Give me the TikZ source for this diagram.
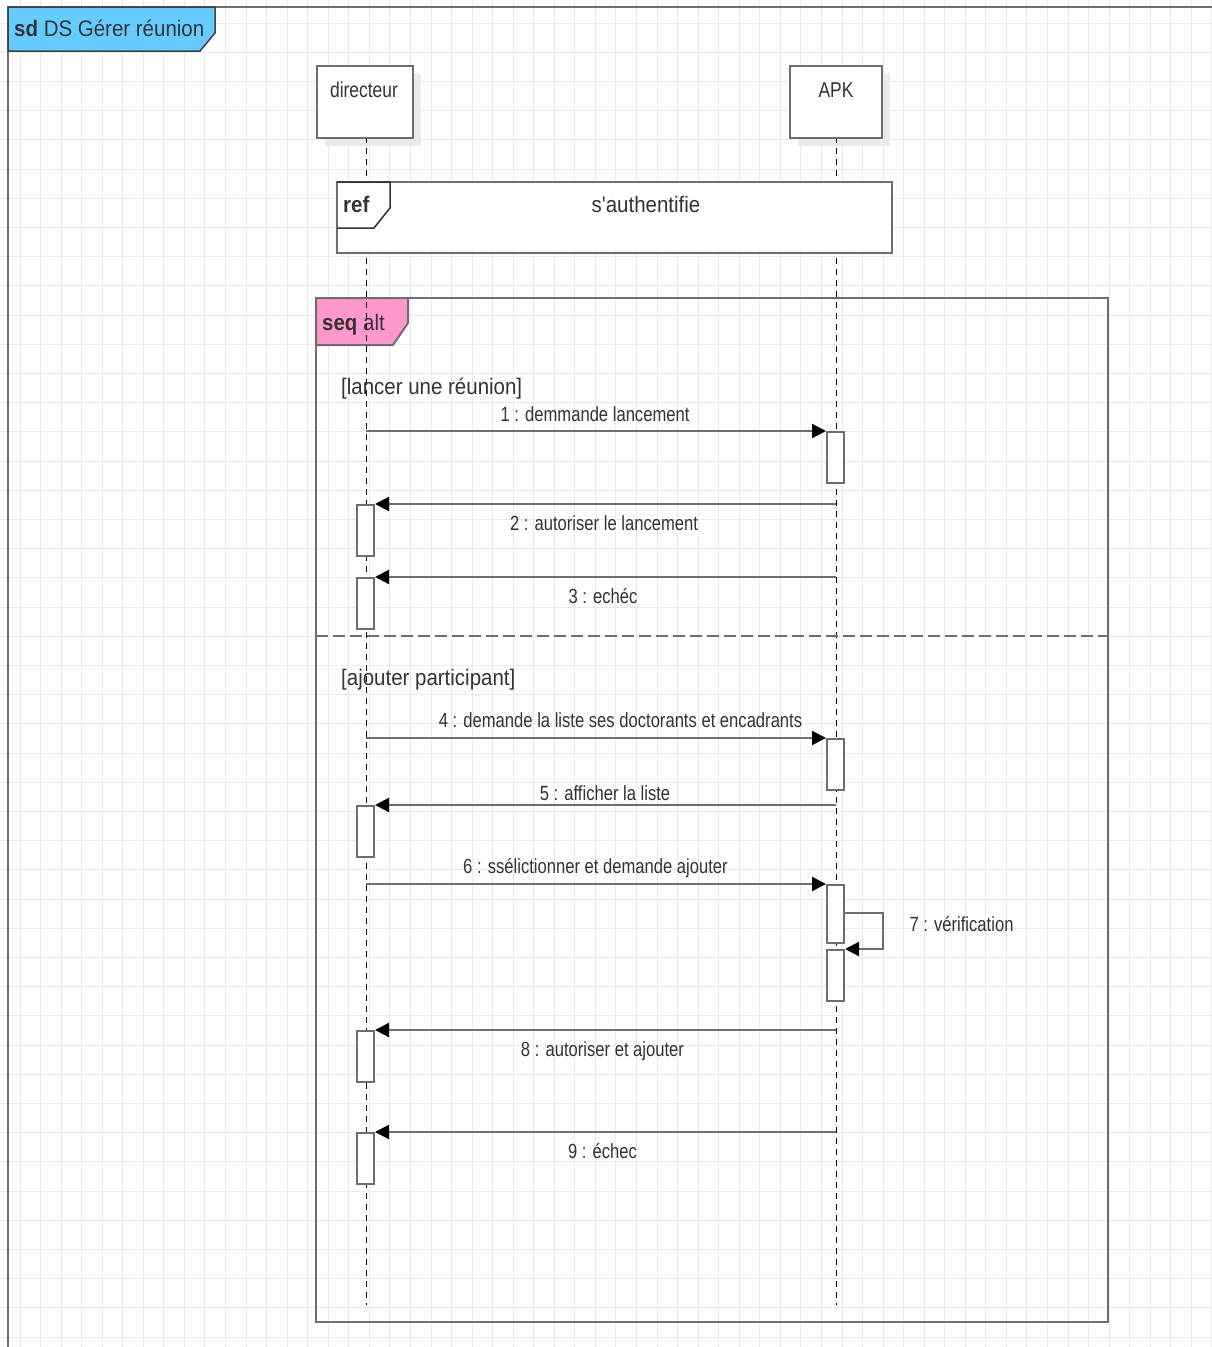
\documentclass[tikz,border=0pt]{standalone}
\usepackage{fontspec}
\setmainfont{Liberation Sans}
\newfontfamily\labfont[FakeStretch=0.81]{Liberation Sans}
\newfontfamily\bigfont[FakeStretch=0.91]{Liberation Sans}
\usetikzlibrary{arrows.meta}
\definecolor{frameg}{HTML}{6E6E6E}
\definecolor{gridg}{HTML}{EAEAEA}
\definecolor{sdblue}{HTML}{66CCFF}
\definecolor{altpink}{HTML}{FF99CC}
\definecolor{txt}{HTML}{333333}
\definecolor{shadowg}{HTML}{EBEBEB}
\begin{document}
\begin{tikzpicture}[x=1pt,y=-1pt,
  frameline/.style={draw=frameg,line width=2.5pt},
  lifeline/.style={draw=black,line width=1pt,dash pattern=on 6pt off 5pt},
  headbox/.style={draw=frameg,line width=2pt,fill=white,minimum width=96pt,minimum height=72pt,inner sep=0pt,anchor=north west},
  actbox/.style={draw=frameg,line width=2pt,fill=white,minimum width=17pt,minimum height=51pt,inner sep=0pt,anchor=north west},
  msg/.style={draw=frameg,line width=2.2pt,-{Triangle[length=14pt,width=14pt,color=black]}},
  lab/.style={font=\labfont\fontsize{20.5}{23}\selectfont,text=txt,inner sep=0pt,anchor=base},
  head/.style={font=\labfont\fontsize{21.5}{24}\selectfont,text=txt,inner sep=0pt,anchor=base},
  big/.style={font=\bigfont\fontsize{22.5}{25}\selectfont,text=txt,inner sep=0pt,anchor=base west},
]
\useasboundingbox (0,0) rectangle (1212,1347);
\fill[white] (0,0) rectangle (1212,1347);
% grid
\foreach \i in {0,...,59} \draw[gridg,line width=1pt] ({-0.55+20.55*\i},0) -- ++(0,1347);
\foreach \j in {0,...,46} \draw[gridg,line width=1pt] (0,{-6.2+29.2*\j}) -- ++(1212,0);
% outer frame
\draw[frameline] (8,1347) -- (8,7) -- (1212,7);
\draw[draw=black!75,line width=1.5pt,fill=sdblue] (8,7) -- (215,7) -- (215,33) -- (200,51) -- (8,51) -- cycle;
\node[big] (sdt) at (14,36) {\textbf{sd} DS Gérer réunion};
% alt frame
\draw[frameline] (316,298) rectangle (1108,1322);
\draw[draw=frameg,line width=2pt,fill=altpink] (316,298) -- (408,298) -- (408,323) -- (393,345) -- (316,345) -- cycle;
\node[big] (seqt) at (322,330) {\textbf{seq} alt};
% shadows of heads
\fill[shadowg] (325,74) rectangle (421,146);
\fill[shadowg] (798,74) rectangle (890,146);
% lifelines
\coordinate (dtop) at (366,137);
\coordinate (dend) at (366,1305);
\coordinate (ptop) at (836,137);
\coordinate (pend) at (836,1305);
\draw[lifeline] (dtop) -- (dend);
\draw[lifeline] (ptop) -- (pend);
% heads
\node[headbox] (dir) at (316,65) {};
\node[headbox,minimum width=92pt] (apk) at (789,65) {};
\node[head] (dirt) at (364,97) {directeur};
\node[head] (apkt) at (836,97) {APK};
% ref box
\draw[frameline,fill=white] (337,182) rectangle (892,253);
\draw[draw=black!80,line width=1.5pt] (337,182) -- (390,182) -- (390,208) -- (374,228) -- (337,228);
\node[big] (reft) at (343,212) {\textbf{ref}};
\node[big,anchor=base] (autht) at (646,212) {s'authentifie};
% separator
\draw[draw=frameg,line width=2.5pt,dash pattern=on 12pt off 5pt] (316,636) -- (1108,636);
% guards
\node[big] (g1) at (341,394) {[lancer une réunion]};
\node[big] (g2) at (341,685) {[ajouter participant]};
% activation boxes
\node[actbox] (a1) at (826,431) {};
\node[actbox] (b2) at (356,504) {};
\node[actbox] (b3) at (356,577) {};
\node[actbox] (a4) at (826,738) {};
\node[actbox] (b5) at (356,805) {};
\node[actbox,minimum height=58pt] (a6) at (826,884) {};
\node[actbox] (a7) at (826,949) {};
\node[actbox] (b8) at (356,1030) {};
\node[actbox] (b9) at (356,1132) {};
% message start points
\coordinate (s1) at (366,431);
\coordinate (s2) at (836,504);
\coordinate (s3) at (836,577);
\coordinate (s4) at (366,738);
\coordinate (s5) at (836,805);
\coordinate (s6) at (366,884);
\coordinate (s8) at (836,1030);
\coordinate (s9) at (836,1132);
% messages
\draw[msg] (s1) -- (a1.north west);
\draw[msg] (s2) -- (b2.north east);
\draw[msg] (s3) -- (b3.north east);
\draw[msg] (s4) -- (a4.north west);
\draw[msg] (s5) -- (b5.north east);
\draw[msg] (s6) -- (a6.north west);
\draw[msg] ([yshift=-29pt]a6.north east) -- ++(38,0) |- (a7.north east);
\draw[msg] (s8) -- (b8.north east);
\draw[msg] (s9) -- (b9.north east);
% labels
\node[lab] (l1) at (595,421) {1 : demmande lancement};
\node[lab] (l2) at (604,530) {2 : autoriser le lancement};
\node[lab] (l3) at (603,603) {3 : echéc};
\node[lab] (l4) at (620.5,727) {4 : demande la liste ses doctorants et encadrants};
\node[lab] (l5) at (605,800) {5 : afficher la liste};
\node[lab] (l6) at (595.5,873) {6 : ssélictionner et demande ajouter};
\node[lab] (l7) at (961.5,931) {7 : vérification};
\node[lab] (l8) at (602.5,1056) {8 : autoriser et ajouter};
\node[lab] (l9) at (602.5,1158) {9 : échec};
\end{tikzpicture}
\end{document}
